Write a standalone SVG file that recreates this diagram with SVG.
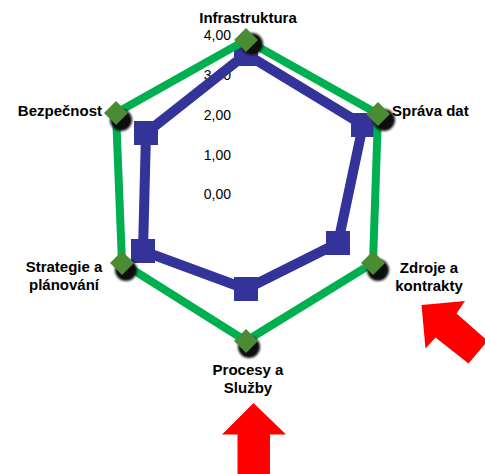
<svg xmlns="http://www.w3.org/2000/svg" width="485" height="474" viewBox="0 0 485 474">
<style>
.val{font-family:"Liberation Sans",Arial,sans-serif;font-size:14px;fill:#000;text-anchor:end}
.cat{font-family:"Liberation Sans",Arial,sans-serif;font-size:15px;font-weight:bold;fill:#000}
.blue{fill:none;stroke:#333399;stroke-width:10;stroke-linejoin:miter}
.green{fill:none;stroke:#00b050;stroke-width:8;stroke-linejoin:miter}
.sq{fill:#333399}
.dm{fill:#4b8b33}
.sh{fill:#111;filter:url(#blur)}
.arrow{fill:#ff0000}
</style>
<defs>
<filter id="blur" x="-50%" y="-50%" width="200%" height="200%"><feGaussianBlur stdDeviation="1"/></filter>
<rect id="s" x="-12" y="-12" width="24" height="24" class="sq"/>
<polygon id="d" points="0,-12 12,0 0,12 -12,0" class="dm"/>
<circle id="h" r="11" class="sh"/>
</defs>
<rect width="485" height="474" fill="#fff"/>
<g id="axis-labels">
<text class="val" x="231" y="40">4,00</text>
<text class="val" x="231" y="80">3,00</text>
<text class="val" x="231" y="120">2,00</text>
<text class="val" x="231" y="160">1,00</text>
<text class="val" x="231" y="199">0,00</text>
</g>
<g id="connectors">
<polygon class="blue" points="246,54 363,125 338,243 246,289 143,251 146,133"/>
<g id="blue-markers">
<use href="#s" x="246" y="54"/>
<use href="#s" x="363" y="125"/>
<use href="#s" x="338" y="243"/>
<use href="#s" x="246" y="289"/>
<use href="#s" x="143" y="251"/>
<use href="#s" x="146" y="133"/>
</g>
<polygon class="green" points="246,40 378,114 373,263 246,341 122,263 116,113"/>
</g>
<g id="node-infrastruktura">
<use href="#h" x="252" y="44"/>
<use href="#d" x="246" y="40"/>
<text class="cat" x="248" y="23" text-anchor="middle">Infrastruktura</text>
</g>
<g id="node-sprava-dat">
<use href="#h" x="384" y="120"/>
<use href="#d" x="378" y="114"/>
<text class="cat" x="392" y="116">Správa dat</text>
</g>
<g id="node-zdroje">
<use href="#h" x="378" y="270"/>
<use href="#d" x="373" y="263"/>
<text class="cat" x="429" y="273" text-anchor="middle">Zdroje a</text>
<text class="cat" x="429" y="291" text-anchor="middle">kontrakty</text>
</g>
<g id="node-procesy">
<use href="#h" x="249" y="347"/>
<use href="#d" x="246" y="341"/>
<text class="cat" x="248" y="375" text-anchor="middle">Procesy a</text>
<text class="cat" x="248" y="393" text-anchor="middle">Služby</text>
</g>
<g id="node-strategie">
<use href="#h" x="126" y="270"/>
<use href="#d" x="122" y="263"/>
<text class="cat" x="64" y="272" text-anchor="middle">Strategie a</text>
<text class="cat" x="64" y="290" text-anchor="middle">plánování</text>
</g>
<g id="node-bezpecnost">
<use href="#h" x="121" y="120"/>
<use href="#d" x="116" y="113"/>
<text class="cat" x="102" y="116" text-anchor="end">Bezpečnost</text>
</g>
<g id="arrows">
<polygon class="arrow" points="253.5,403 286,434.5 270,434.5 270,474 237.5,474 237.5,434.5 222,434.5"/>
<polygon class="arrow" points="421.5,305 465,301 456.5,313.5 485,338.5 485,344 468.5,363.5 435.5,337.5 425.5,348.5"/>
</g>
</svg>
